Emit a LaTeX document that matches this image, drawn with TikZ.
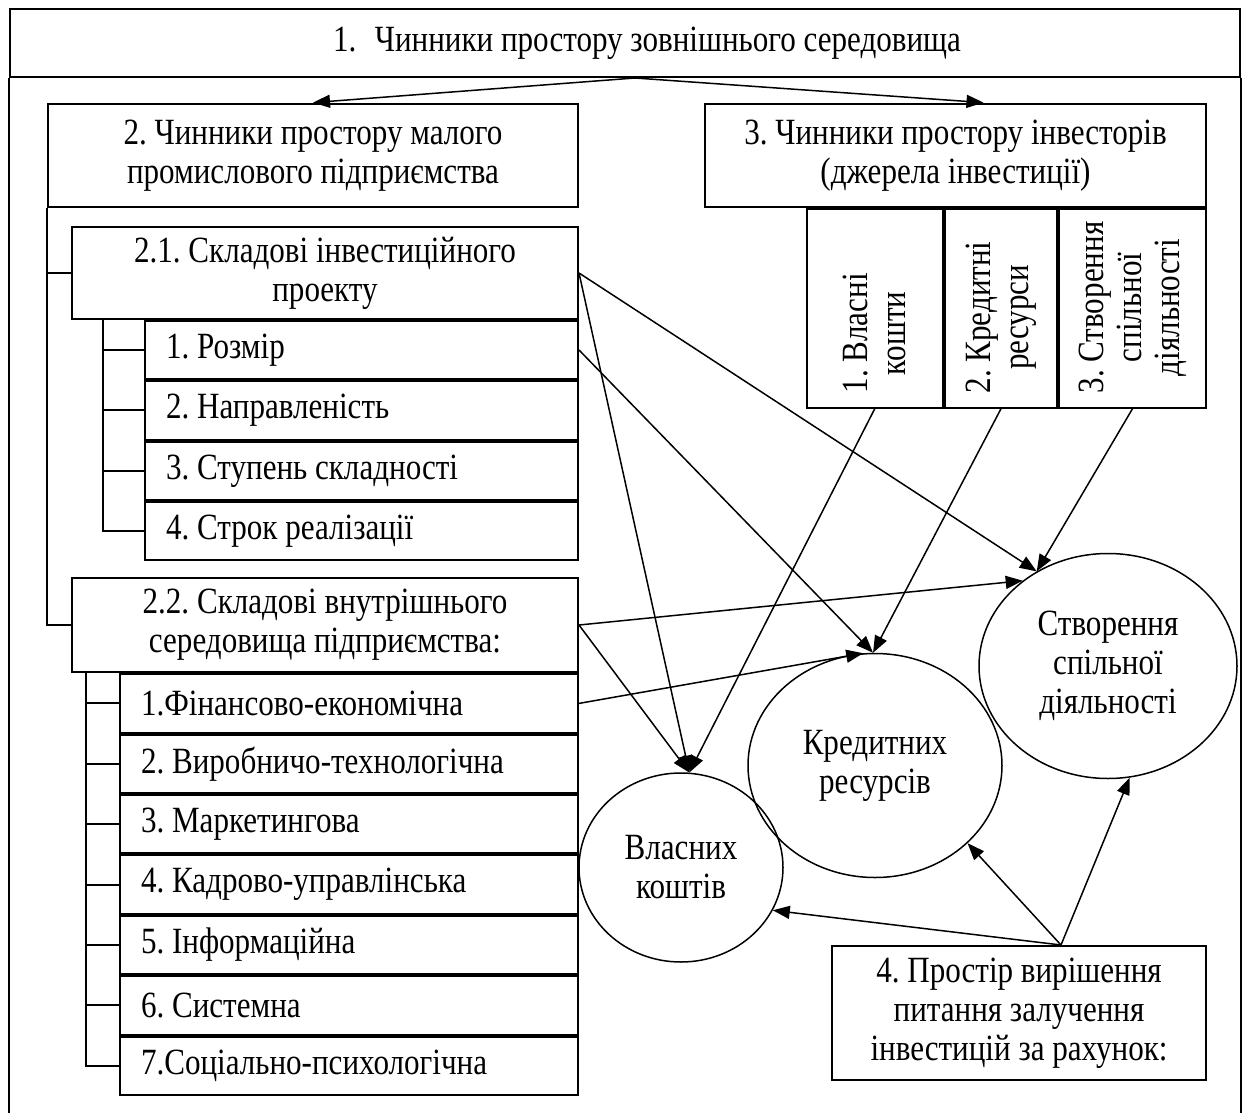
\documentclass[tikz,border=0pt]{standalone}
\usepackage{fontspec}
\setmainfont[FakeStretch=0.84]{Liberation Serif}
\usetikzlibrary{arrows.meta, positioning, shapes.geometric}
\frenchspacing

\tikzset{
  box/.style={draw, line width=2pt, align=center, inner sep=0pt},
  item/.style={draw, line width=2pt, align=flush left, inner xsep=21pt, inner ysep=0pt,
    minimum height=58.4pt, text width=#1},
  col/.style={draw, line width=2pt, minimum height=198.7pt, inner sep=0pt},
  coltext/.style={rotate=90, anchor=west, align=center, inner sep=0pt,
    font=\fontsize{37}{38}\selectfont},
  oval/.style={ellipse, draw, line width=1.5pt, align=center, inner sep=0pt},
  link/.style={line width=1.5pt, ->},
  tick/.style={line width=2pt}
}

\begin{document}
\begin{tikzpicture}[>={Triangle[length=17pt,width=13pt]}, x=1pt, y=-1pt,
    font=\fontsize{37}{39}\selectfont]

    \useasboundingbox (0,0) rectangle (1253,1113);

    % =================================================================
    % 1. ЗОВНІШНЄ СЕРЕДОВИЩЕ (РАМКА)
    % =================================================================
    \node[box, minimum width=1230pt, minimum height=68pt] (zovn) at (625,43)
        {\hspace*{44pt}1.\hspace{0.5em}Чинники простору зовнішнього середовища};
    \draw[line width=1.5pt] (zovn.south west) -- ++(0,1036);
    \draw[line width=1.5pt] (zovn.south east) -- ++(0,1036);

    % =================================================================
    % 2. ПІДПРИЄМСТВО ТА ІНВЕСТОРИ
    % =================================================================
    \node[box, minimum width=530pt, minimum height=103.4pt] (mp) at (313,155.3)
        {2. Чинники простору малого\\промислового підприємства};
    \node[box, minimum width=501pt, minimum height=103.4pt] (inv) at (955.5,155.3)
        {3. Чинники простору інвесторів\\(джерела інвестиції)};

    % Джерела інвестицій (вертикальний текст)
    \node[col, minimum width=147pt, anchor=north east] (ssd) at (inv.south east) {};
    \node[col, minimum width=112pt, left=0pt of ssd] (kr) {};
    \node[col, minimum width=136.5pt, left=0pt of kr] (vk) {};
    \node[coltext] at ([yshift=15pt]vk.south) {1. Власні\\кошти};
    \node[coltext] at ([yshift=15pt]kr.south) {2. Кредитні\\ресурси};
    \node[coltext] at ([yshift=15pt]ssd.south) {3. Створення\\спільної\\діяльності};

    % =================================================================
    % 3. СКЛАДОВІ ПРОЕКТУ І ВНУТРІШНЬОГО СЕРЕДОВИЩА
    % =================================================================
    \node[box, minimum width=506pt, minimum height=91.6pt] (inp) at (325,273)
        {2.1. Складові інвестиційного\\проекту};
    \node[item=391pt, anchor=north east] (r1) at (inp.south east) {1. Розмір};
    \node[item=391pt, below=0pt of r1] (r2) {2. Направленість};
    \node[item=391pt, below=0pt of r2] (r3) {3. Ступень складності};
    \node[item=391pt, below=0pt of r3] (r4) {4. Строк реалізації};

    \node[box, minimum width=506pt, minimum height=94.4pt] (vns) at (325,625)
        {2.2. Складові внутрішнього\\середовища підприємства:};
    \node[item=416pt, anchor=north east] (s1) at (vns.south east) {1.Фінансово-економічна};
    \node[item=416pt, below=0pt of s1] (s2) {2. Виробничо-технологічна};
    \node[item=416pt, below=0pt of s2] (s3) {3. Маркетингова};
    \node[item=416pt, below=0pt of s3] (s4) {4. Кадрово-управлінська};
    \node[item=416pt, below=0pt of s4] (s5) {5. Інформаційна};
    \node[item=416pt, below=0pt of s5] (s6) {6. Системна};
    \node[item=416pt, below=0pt of s6] (s7) {7.Соціально-психологічна};

    % Дужки зліва
    \draw[tick] (mp.south west) |- (vns.west);
    \draw[tick] (mp.south west |- inp.west) -- (inp.west);
    \coordinate (b1) at ([xshift=32pt]inp.south west);
    \draw[tick] (b1) |- (r4.west);
    \foreach \i in {1,2,3}
        \draw[tick] (b1 |- r\i.west) -- (r\i.west);
    \coordinate (b2) at ([xshift=15pt]vns.south west);
    \draw[tick] (b2) |- (s7.west);
    \foreach \i in {1,...,6}
        \draw[tick] (b2 |- s\i.west) -- (s\i.west);

    % =================================================================
    % 4. ОВАЛИ ТА ПРОСТІР ВИРІШЕННЯ
    % =================================================================
    \node[oval, minimum width=204pt, minimum height=189pt] (ownc) at (681,867.5)
        {Власних\\коштів};
    \node[oval, minimum width=254pt, minimum height=224pt] (kred) at (875,765.5)
        {Кредитних\\ресурсів};
    \node[oval, minimum width=258pt, minimum height=225pt] (spil) at (1108,666)
        {Створення\\спільної\\діяльності};
    \node[box, minimum width=374.5pt, minimum height=134pt] (prost) at (1019,1013)
        {4. Простір вирішення\\питання залучення\\інвестицій за рахунок:};

    % =================================================================
    % 5. СТРІЛКИ
    % =================================================================
    \draw[link] ([xshift=10pt]zovn.south) -- (mp.north);
    \draw[link] ([xshift=10pt]zovn.south) -- ([xshift=28pt]inv.north);

    \draw[link] (inp.east) -- (ownc.85);
    \draw[link] (inp.east) -- (spil.127);
    \draw[link] (r1.east) -- (kred.91);
    \draw[link] (vns.east) -- (spil.135);
    \draw[link] (vns.east) -- (ownc.85);
    \draw[link] (s1.east) -- (kred.96);

    \draw[link] (vk.south) -- (ownc.85);
    \draw[link] (kr.south) -- (kred.91);
    \draw[link] (ssd.south) -- (spil.127);

    \draw[link] ([xshift=42pt]prost.north) -- (ownc.-25);
    \draw[link] ([xshift=42pt]prost.north) -- (kred.-40);
    \draw[link] ([xshift=42pt]prost.north) -- (spil.-79);

\end{tikzpicture}
\end{document}
